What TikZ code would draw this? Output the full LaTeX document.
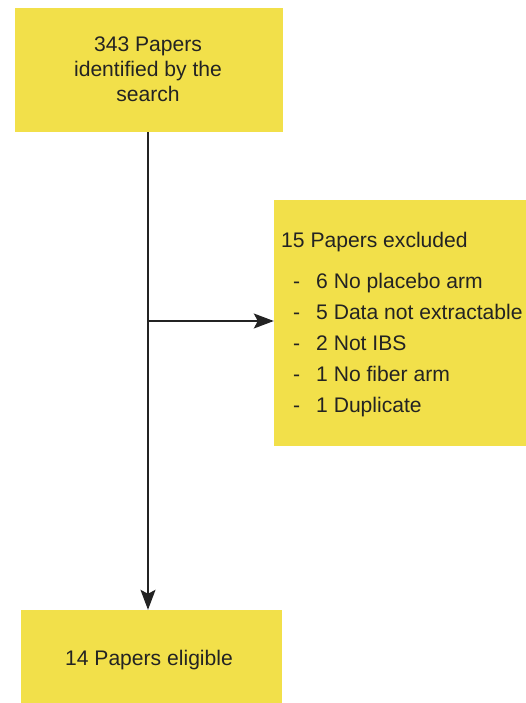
\documentclass[tikz,border=0pt]{standalone}
\usepackage{fontspec}
\setmainfont{Liberation Sans}
\usetikzlibrary{arrows.meta}
\definecolor{boxyellow}{RGB}{242,224,74}
\definecolor{inkgray}{RGB}{35,35,35}
\begin{document}
\begin{tikzpicture}[x=1pt,y=-1pt,
  ybox/.style={draw=none,fill=boxyellow,inner sep=0pt,minimum width=#1},
  txt/.style={inner sep=0pt,text=inkgray,font=\fontsize{21.1}{25}\selectfont},
  conn/.style={draw=inkgray,line width=1.6pt,-{Stealth[length=20pt,width=15pt,inset=4pt]}}]
\useasboundingbox (0,0) rectangle (526,703);
\node[ybox=268pt,minimum height=124pt] (top) at (149,70) {};
\node[ybox=252pt,minimum height=246pt] (excl) at (400,323) {};
\node[ybox=261pt,minimum height=93pt] (bot) at (151.5,656.5) {};
% top text
\node[txt,anchor=base] (t1) at (148,52) {343 Papers};
\node[txt,anchor=base] (t2) at (148,77) {identified by the};
\node[txt,anchor=base] (t3) at (148,102) {search};
% excluded text
\node[txt,anchor=base west] (e0) at (281,247) {15 Papers excluded};
\node[txt,anchor=base west] (d1) at (293,288) {-};
\node[txt,anchor=base west] (e1) at (316,288) {6 No placebo arm};
\node[txt,anchor=base west] (d2) at (293,319) {-};
\node[txt,anchor=base west] (e2) at (316,319) {5 Data not extractable};
\node[txt,anchor=base west] (d3) at (293,350) {-};
\node[txt,anchor=base west] (e3) at (316,350) {2 Not IBS};
\node[txt,anchor=base west] (d4) at (293,381) {-};
\node[txt,anchor=base west] (e4) at (316,381) {1 No fiber arm};
\node[txt,anchor=base west] (d5) at (293,412) {-};
\node[txt,anchor=base west] (e5) at (316,412) {1 Duplicate};
% bottom text
\node[txt,anchor=base] (b1) at (149,665) {14 Papers eligible};
% connectors
\coordinate (stem) at ([xshift=-1pt]top.south);
\coordinate (branchend) at ([yshift=2pt]excl.west);
\coordinate (split) at (stem |- branchend);
\draw[conn] (stem) -- (stem |- bot.north);
\draw[conn] (split) -- (branchend);
\end{tikzpicture}
\end{document}
